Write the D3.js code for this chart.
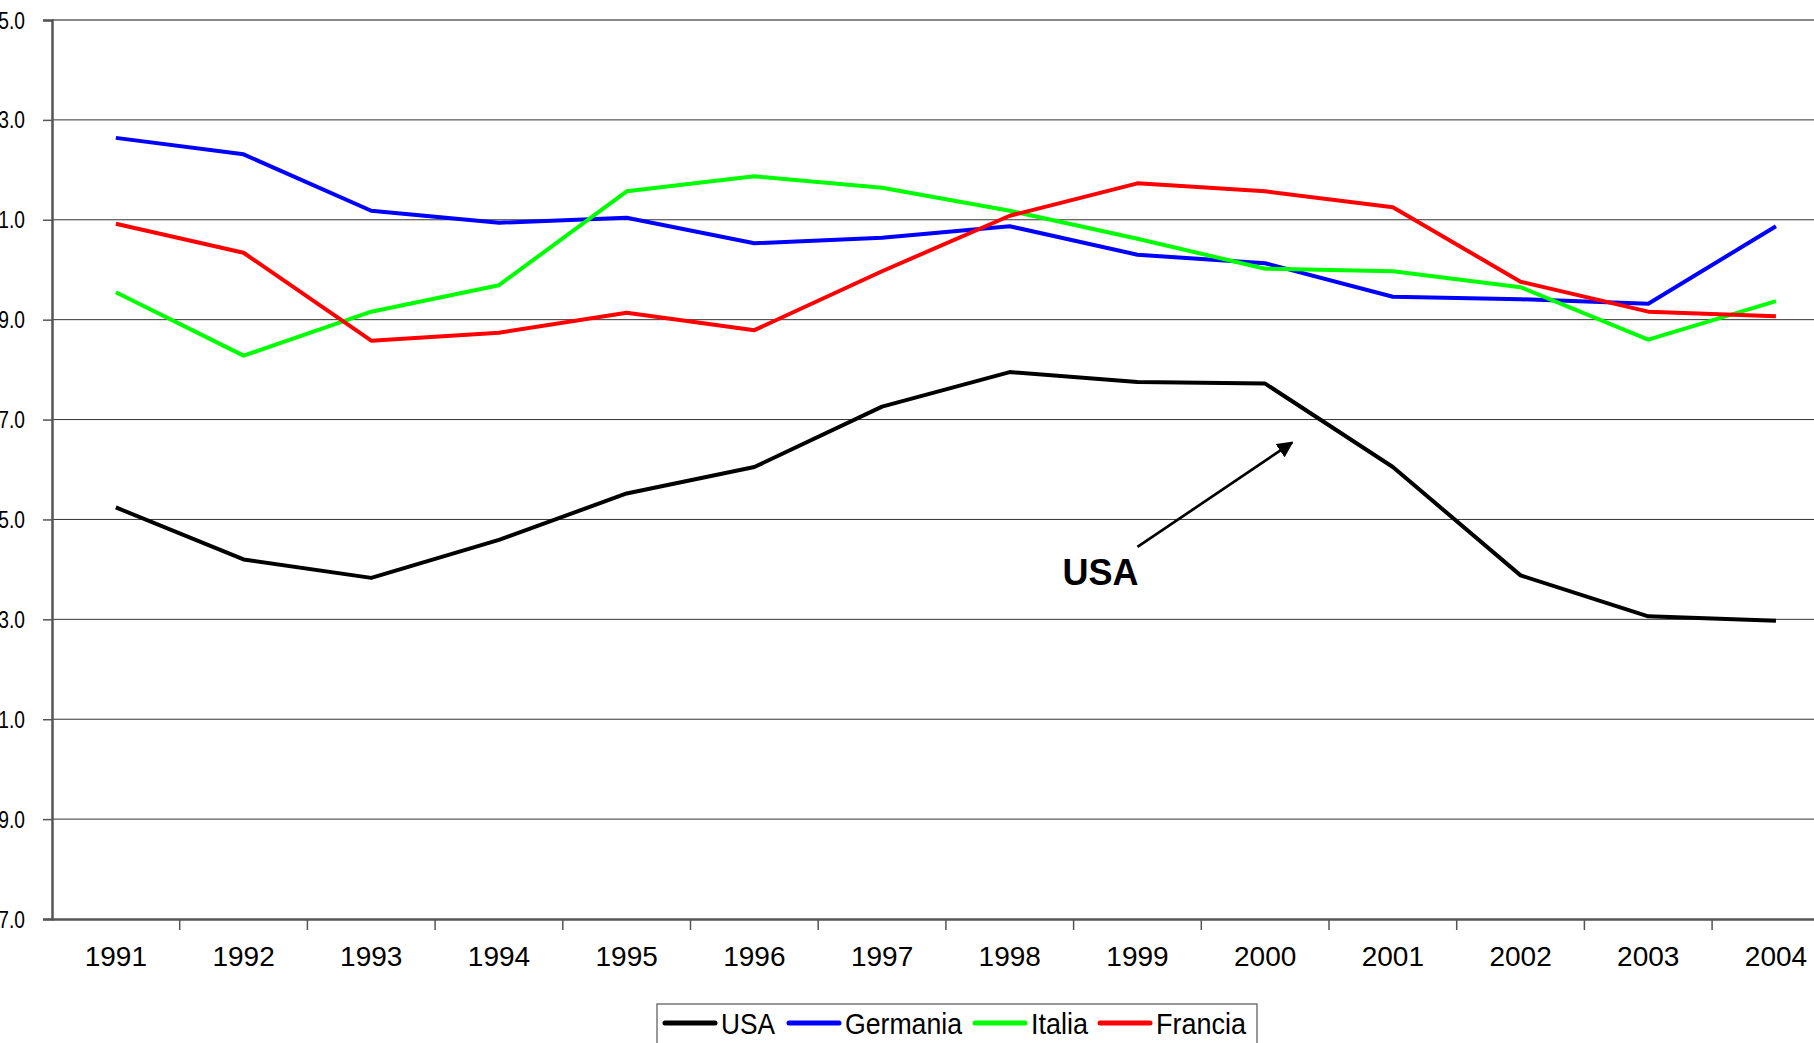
<!DOCTYPE html>
<html>
<head>
<meta charset="utf-8">
<script src="https://cdn.jsdelivr.net/npm/d3@7"></script>
<style>
  html, body { margin: 0; padding: 0; background: #fff; overflow: hidden; }
  svg { display: block; font-family: "Liberation Sans", Arial, sans-serif; }
</style>
</head>
<body>
<svg id="chart" width="1814" height="1043"></svg>
<script>
// ---- data ----
const years = ["1991","1992","1993","1994","1995","1996","1997","1998","1999","2000","2001","2002","2003","2004"];
const usa      = [65.24, 64.20, 63.83, 64.59, 65.52, 66.05, 67.26, 67.95, 67.75, 67.72, 66.05, 63.88, 63.06, 62.97];
const germania = [72.64, 72.31, 71.18, 70.94, 71.04, 70.53, 70.64, 70.87, 70.30, 70.13, 69.46, 69.41, 69.32, 70.87];
const italia   = [69.55, 68.28, 69.16, 69.69, 71.57, 71.87, 71.64, 71.18, 70.62, 70.02, 69.97, 69.65, 68.60, 69.37];
const francia  = [70.92, 70.34, 68.58, 68.74, 69.14, 68.79, 69.97, 71.08, 71.73, 71.57, 71.25, 69.76, 69.16, 69.07];
const seriesNames = ["USA", "Germania", "Italia", "Francia"];
const yTicks = [57, 59, 61, 63, 65, 67, 69, 71, 73, 75];

const seriesColors = ["#000000", "#0000FF", "#00FF00", "#FF0000"];
const seriesData = [usa, germania, italia, francia];

// ---- layout ----
const svg = d3.select("#chart");
const plotLeft = 52, plotTop = 20, plotBottom = 919;
const bandW = 127.7;
const plotRight = plotLeft + bandW * years.length;

const x = d3.scaleBand().domain(years).range([plotLeft, plotRight]).padding(0);
const y = d3.scaleLinear().domain([57, 75]).range([plotBottom, plotTop]);
const cx = d => x(d) + x.bandwidth() / 2;

// gridlines
svg.append("g").selectAll("line").data(yTicks.filter(t => t !== 57 && t !== 75)).join("line")
  .attr("x1", plotLeft).attr("x2", plotRight)
  .attr("y1", d => y(d)).attr("y2", d => y(d))
  .attr("stroke", "#333").attr("stroke-width", 1);

// top border
svg.append("line").attr("x1", plotLeft).attr("x2", plotRight).attr("y1", y(75)).attr("y2", y(75))
  .attr("stroke", "#888").attr("stroke-width", 2);

// y axis
const yAxis = d3.axisLeft(y).tickValues(yTicks).tickSize(9).tickFormat(d3.format(".1f"));
const gy = svg.append("g").attr("transform", `translate(${plotLeft},0)`).call(yAxis);
gy.select(".domain").attr("stroke", "#555").attr("stroke-width", 2.5);
gy.selectAll(".tick line").attr("stroke", "#555").attr("stroke-width", 1.5);
gy.selectAll(".tick text").remove();
svg.append("g").selectAll("text").data(yTicks).join("text")
  .attr("transform", d => `translate(25,${y(d) + 8.5}) scale(0.8,1)`)
  .attr("text-anchor", "end")
  .attr("font-size", 24)
  .attr("fill", "#000")
  .text(d => d3.format(".1f")(d));

// x axis
const xAxis = d3.axisBottom(x).tickSize(0).tickFormat(d => d);
const gx = svg.append("g").attr("transform", `translate(0,${plotBottom})`).call(xAxis);
gx.select(".domain").attr("stroke", "#555").attr("stroke-width", 2.5);
gx.selectAll(".tick text").attr("font-size", 28).attr("fill", "#000").attr("dy", null).attr("y", 47)
  .attr("font-family", "'Liberation Sans', Arial, sans-serif");
// category boundary ticks
svg.append("g").selectAll("line").data(years.slice(1)).join("line")
  .attr("x1", d => x(d)).attr("x2", d => x(d))
  .attr("y1", plotBottom).attr("y2", plotBottom + 11)
  .attr("stroke", "#555").attr("stroke-width", 1.5);

// lines
const line = d3.line().x((d, i) => cx(years[i])).y(d => y(d));
seriesData.forEach((s, k) => {
  svg.append("path").datum(s)
    .attr("d", line)
    .attr("fill", "none")
    .attr("stroke", seriesColors[k])
    .attr("stroke-width", 4)
    .attr("stroke-linejoin", "round");
});

// annotation
const defs = svg.append("defs");
defs.append("marker").attr("id", "arr").attr("viewBox", "0 0 10 10")
  .attr("refX", 9).attr("refY", 5).attr("markerWidth", 6).attr("markerHeight", 6)
  .attr("orient", "auto").attr("markerUnits", "strokeWidth")
  .append("path").attr("d", "M0,0 L10,5 L0,10 z").attr("fill", "#000");
svg.append("line")
  .attr("x1", cx("1999")).attr("y1", y(64.45))
  .attr("x2", cx("2000") + 27).attr("y2", y(66.54))
  .attr("stroke", "#000").attr("stroke-width", 2.7)
  .attr("marker-end", "url(#arr)");
svg.append("text")
  .attr("x", cx("1999") + 1).attr("y", y(63.68))
  .attr("text-anchor", "end")
  .attr("font-size", 36).attr("font-weight", "bold")
  .text("USA");

// legend
const lg = svg.append("g");
lg.append("rect").attr("x", 657).attr("y", 1004).attr("width", 600).attr("height", 80)
  .attr("fill", "#fff").attr("stroke", "#777").attr("stroke-width", 1.5);
const legLineX = [665, 789, 975, 1100];
const legTextW = [54, 117, 57, 90];
seriesNames.forEach((n, i) => {
  lg.append("line").attr("x1", legLineX[i]).attr("x2", legLineX[i] + 50)
    .attr("y1", 1023).attr("y2", 1023)
    .attr("stroke", seriesColors[i]).attr("stroke-width", 5).attr("stroke-linecap", "round");
  lg.append("text").attr("x", legLineX[i] + 56).attr("y", 1033.5)
    .attr("font-size", 30)
    .attr("textLength", legTextW[i]).attr("lengthAdjust", "spacingAndGlyphs")
    .text(n);
});
</script>
</body>
</html>
